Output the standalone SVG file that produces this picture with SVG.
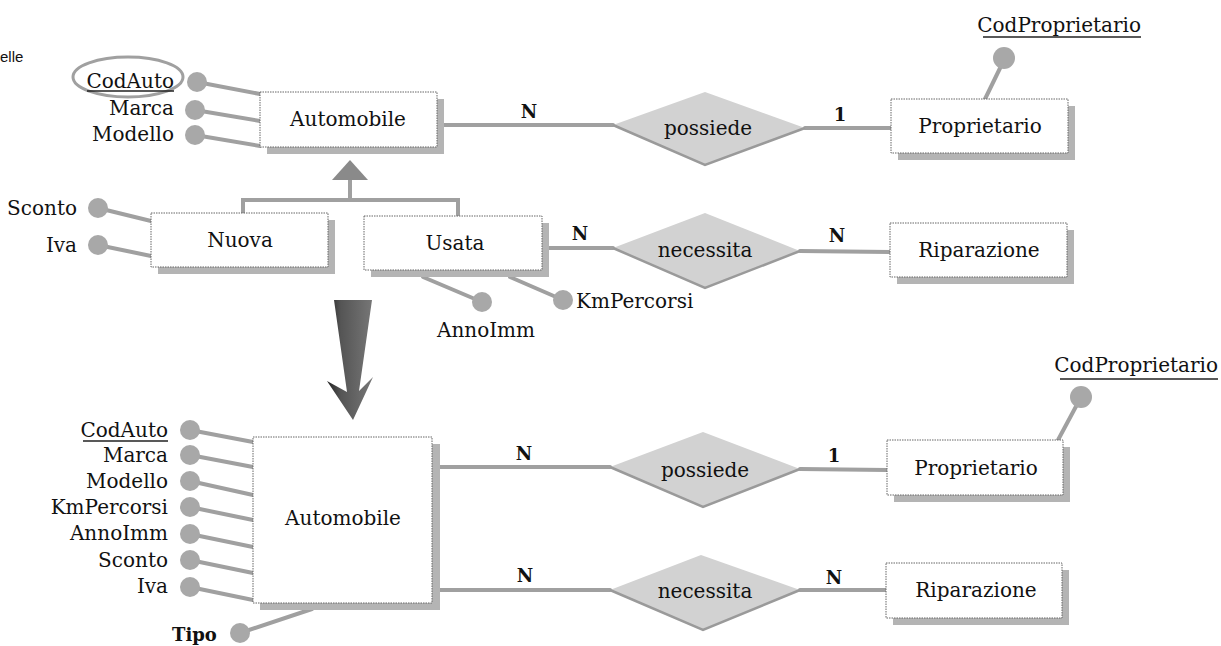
<svg xmlns="http://www.w3.org/2000/svg" width="1221" height="646" viewBox="0 0 1221 646">
<defs>
<style>
.t{font-family:"DejaVu Serif","Liberation Serif",serif;font-size:20px;fill:#111}
.tr{text-anchor:end}
.tm{text-anchor:middle}
.b{font-weight:bold;font-size:18px}
.ln{stroke:#a0a0a0;stroke-width:4;fill:none;stroke-linecap:round}
.at{fill:#a8a8a8}
.sh{fill:#b4b4b4}
.bx{fill:#fff;stroke:#666;stroke-width:1;stroke-dasharray:1.5 1}
.dm{fill:#d2d2d2}
.de{stroke:#9a9a9a;stroke-width:2.5;fill:none}
.ul{stroke:#222;stroke-width:1.5}
</style>
<linearGradient id="ag" x1="0" y1="0" x2="1" y2="0">
<stop offset="0" stop-color="#222"/>
<stop offset="0.3" stop-color="#555"/>
<stop offset="1" stop-color="#777"/>
</linearGradient>
</defs>
<rect width="1221" height="646" fill="#fff"/>
<text x="0" y="62" style="font-family:'Liberation Sans',Arial,sans-serif;font-size:15px;fill:#111">elle</text>

<g id="connectors">
<line class="ln" x1="197" y1="82" x2="260" y2="94"/>
<line class="ln" x1="195" y1="110" x2="260" y2="121"/>
<line class="ln" x1="195" y1="135" x2="260" y2="146"/>
<line class="ln" x1="98" y1="208" x2="151" y2="221"/>
<line class="ln" x1="98" y1="245" x2="151" y2="256"/>
<line class="ln" x1="423" y1="277" x2="482" y2="302"/>
<line class="ln" x1="510" y1="277" x2="563" y2="300"/>
<line class="ln" x1="1004" y1="60" x2="985" y2="99"/>
<line class="ln" x1="443" y1="125" x2="613" y2="125"/>
<line class="ln" x1="805" y1="128" x2="891" y2="128"/>
<line class="ln" x1="549" y1="248" x2="613" y2="248"/>
<line class="ln" x1="800" y1="251" x2="890" y2="252"/>
<path class="ln" d="M243 213 V200 H458 V215" stroke-linecap="butt"/>
<line class="ln" x1="350" y1="178" x2="350" y2="200" stroke-linecap="butt"/>
<polygon points="350,160 368,180 332,180" fill="#8a8a8a"/>
<line class="ln" x1="190" y1="430" x2="253" y2="442"/>
<line class="ln" x1="190" y1="455" x2="253" y2="467"/>
<line class="ln" x1="190" y1="481" x2="253" y2="495"/>
<line class="ln" x1="190" y1="507" x2="253" y2="520"/>
<line class="ln" x1="190" y1="534" x2="253" y2="547"/>
<line class="ln" x1="190" y1="560" x2="253" y2="573"/>
<line class="ln" x1="190" y1="587" x2="253" y2="600"/>
<line class="ln" x1="240" y1="633" x2="312" y2="609"/>
<line class="ln" x1="1080" y1="399" x2="1058" y2="440"/>
<line class="ln" x1="440" y1="467" x2="610" y2="467"/>
<line class="ln" x1="800" y1="469" x2="887" y2="470"/>
<line class="ln" x1="440" y1="590" x2="610" y2="590"/>
<line class="ln" x1="800" y1="590" x2="886" y2="590"/>
</g>

<g id="transform-arrow">
<polygon points="334,300 372,300 359,391 373,377 353,420 327,381 347,392" fill="url(#ag)"/>
</g>

<g id="auto-top">
<rect class="sh" x="267" y="99" width="177" height="55"/>
<rect class="bx" x="260" y="92" width="177" height="55"/>
<text class="t tm" x="348" y="126">Automobile</text>
</g>
<g id="attr-codauto-top">
<ellipse cx="128" cy="77" rx="55" ry="20" fill="none" stroke="#a0a0a0" stroke-width="3"/>
<circle class="at" cx="197" cy="82" r="10"/>
<text class="t tr" x="174" y="88">CodAuto</text>
<line class="ul" x1="87" y1="91" x2="174" y2="91"/>
</g>
<g id="attr-marca-top"><circle class="at" cx="195" cy="110" r="10"/><text class="t tr" x="174" y="115">Marca</text></g>
<g id="attr-modello-top"><circle class="at" cx="195" cy="135" r="10"/><text class="t tr" x="174" y="141">Modello</text></g>

<g id="nuova">
<rect class="sh" x="158" y="220" width="177" height="54"/>
<rect class="bx" x="151" y="213" width="177" height="54"/>
<text class="t tm" x="240" y="247">Nuova</text>
</g>
<g id="attr-sconto-top"><circle class="at" cx="98" cy="208" r="10"/><text class="t tr" x="77" y="215">Sconto</text></g>
<g id="attr-iva-top"><circle class="at" cx="98" cy="245" r="10"/><text class="t tr" x="77" y="252">Iva</text></g>

<g id="usata">
<rect class="sh" x="371" y="223" width="178" height="54"/>
<rect class="bx" x="364" y="216" width="178" height="54"/>
<text class="t tm" x="455" y="250">Usata</text>
</g>
<g id="attr-annoimm-top"><circle class="at" cx="482" cy="302" r="10"/><text class="t tm" x="486" y="337">AnnoImm</text></g>
<g id="attr-kmpercorsi-top"><circle class="at" cx="563" cy="300" r="10"/><text class="t" x="576" y="308">KmPercorsi</text></g>

<g id="possiede-top">
<polygon class="dm" points="613,125 705,92 805,128 705,165"/>
<polyline class="de" points="613,125 705,165 805,128"/>
<text class="t tm" x="708" y="135">possiede</text>
<text class="t b tm" x="529" y="118">N</text>
<text class="t b tm" x="840" y="121">1</text>
</g>
<g id="necessita-top">
<polygon class="dm" points="613,248 705,213 800,251 705,288"/>
<polyline class="de" points="613,248 705,288 800,251"/>
<text class="t tm" x="705" y="257">necessita</text>
<text class="t b tm" x="580" y="240">N</text>
<text class="t b tm" x="837" y="242">N</text>
</g>

<g id="proprietario-top">
<rect class="sh" x="898" y="106" width="177" height="54"/>
<rect class="bx" x="891" y="99" width="177" height="54"/>
<text class="t tm" x="980" y="133">Proprietario</text>
</g>
<g id="attr-codprop-top">
<circle class="at" cx="1004" cy="58" r="11"/>
<text class="t tr" x="1141" y="32">CodProprietario</text>
<line class="ul" x1="983" y1="37" x2="1141" y2="37"/>
</g>
<g id="riparazione-top">
<rect class="sh" x="897" y="230" width="177" height="54"/>
<rect class="bx" x="890" y="223" width="177" height="54"/>
<text class="t tm" x="979" y="257">Riparazione</text>
</g>

<g id="auto-bottom">
<rect class="sh" x="260" y="444" width="180" height="166"/>
<rect class="bx" x="253" y="437" width="179" height="166"/>
<text class="t tm" x="343" y="525">Automobile</text>
</g>
<g id="attr-codauto-b"><circle class="at" cx="190" cy="430" r="10"/><text class="t tr" x="168" y="437">CodAuto</text><line class="ul" x1="83" y1="441" x2="168" y2="441"/></g>
<g id="attr-marca-b"><circle class="at" cx="190" cy="455" r="10"/><text class="t tr" x="168" y="462">Marca</text></g>
<g id="attr-modello-b"><circle class="at" cx="190" cy="481" r="10"/><text class="t tr" x="168" y="488">Modello</text></g>
<g id="attr-km-b"><circle class="at" cx="190" cy="507" r="10"/><text class="t tr" x="168" y="514">KmPercorsi</text></g>
<g id="attr-anno-b"><circle class="at" cx="190" cy="534" r="10"/><text class="t tr" x="168" y="540">AnnoImm</text></g>
<g id="attr-sconto-b"><circle class="at" cx="190" cy="560" r="10"/><text class="t tr" x="168" y="567">Sconto</text></g>
<g id="attr-iva-b"><circle class="at" cx="190" cy="587" r="10"/><text class="t tr" x="168" y="593">Iva</text></g>
<g id="attr-tipo-b"><circle class="at" cx="240" cy="633" r="10"/><text class="t b" x="172" y="641">Tipo</text></g>

<g id="possiede-bottom">
<polygon class="dm" points="610,467 703,432 800,469 703,507"/>
<polyline class="de" points="610,467 703,507 800,469"/>
<text class="t tm" x="705" y="477">possiede</text>
<text class="t b tm" x="524" y="460">N</text>
<text class="t b tm" x="834" y="462">1</text>
</g>
<g id="necessita-bottom">
<polygon class="dm" points="610,590 701,555 800,590 703,630"/>
<polyline class="de" points="610,590 703,630 800,590"/>
<text class="t tm" x="705" y="598">necessita</text>
<text class="t b tm" x="525" y="582">N</text>
<text class="t b tm" x="834" y="584">N</text>
</g>
<g id="proprietario-bottom">
<rect class="sh" x="894" y="447" width="176" height="55"/>
<rect class="bx" x="887" y="440" width="176" height="55"/>
<text class="t tm" x="976" y="475">Proprietario</text>
</g>
<g id="attr-codprop-b">
<circle class="at" cx="1081" cy="397" r="11"/>
<text class="t tr" x="1218" y="372">CodProprietario</text>
<line class="ul" x1="1060" y1="379" x2="1218" y2="379"/>
</g>
<g id="riparazione-bottom">
<rect class="sh" x="893" y="570" width="176" height="55"/>
<rect class="bx" x="886" y="563" width="176" height="55"/>
<text class="t tm" x="976" y="597">Riparazione</text>
</g>
</svg>
